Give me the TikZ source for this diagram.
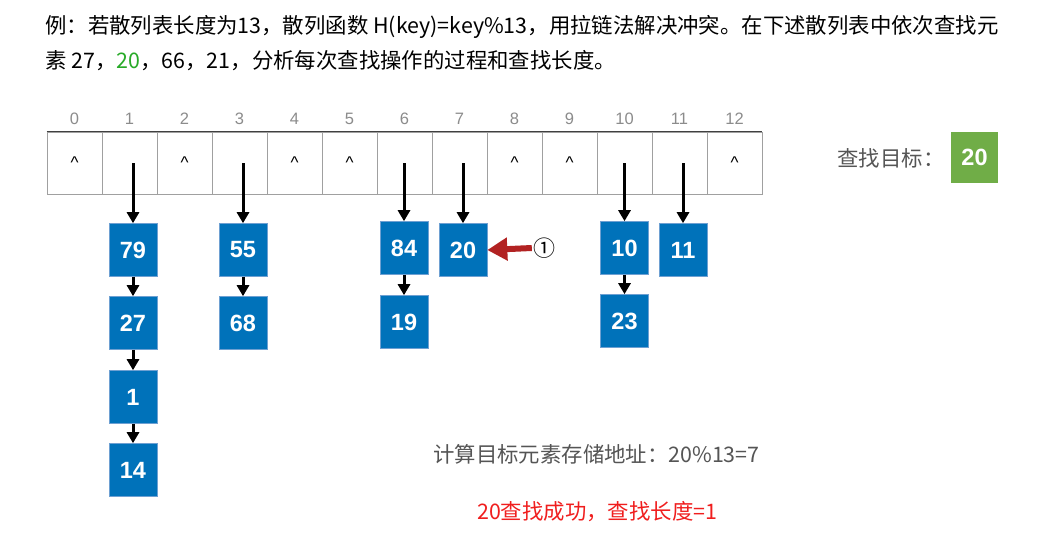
\documentclass[tikz,border=0pt]{standalone}
\usepackage{fontspec}
\setmainfont{Liberation Sans}
\newfontfamily\cjk{Noto Sans CJK SC}
\usetikzlibrary{arrows.meta}
\definecolor{nodeblue}{RGB}{0,114,186}
\definecolor{nodeedge}{RGB}{110,160,210}
\definecolor{idxgray}{RGB}{140,140,140}
\definecolor{txtgray}{RGB}{85,85,85}
\definecolor{cellgray}{RGB}{160,160,160}
\definecolor{tgtgreen}{RGB}{112,173,71}
\definecolor{redarrow}{RGB}{178,34,34}
\definecolor{titlegreen}{RGB}{40,170,40}
\definecolor{okred}{RGB}{240,30,30}
\tikzset{
  cell/.style={draw=cellgray, line width=0.8pt, minimum width=55pt, minimum height=62pt, inner sep=0pt},
  idx/.style={text=idxgray, font=\fontsize{16.5}{16.5}\selectfont, inner sep=0pt},
  caret/.style={font=\fontsize{17}{17}\selectfont, inner sep=0pt},
  elem/.style={fill=nodeblue, draw=nodeedge, line width=0.6pt, minimum width=48pt, minimum height=53pt, inner sep=0pt, text=white, font=\bfseries\fontsize{23.5}{23.5}\selectfont},
  ptr/.style={-{Triangle[length=11pt,width=12pt]}, line width=3pt, black},
  redptr/.style={-{Triangle[length=20pt,width=22pt]}, line width=6pt, redarrow},
  ttl/.style={anchor=base west, inner sep=0pt, font=\cjk\fontsize{21.4}{21.4}\selectfont}
}
\begin{document}
\begin{tikzpicture}[x=1pt,y=-1pt]
\useasboundingbox[fill=white] (0,0) rectangle (1041,546);
% title
\node[ttl] (t1) at (45,33) {例：若散列表长度为13，散列函数 H(key)=key\%13，用拉链法解决冲突。在下述散列表中依次查找元};
\node[ttl] (t2) at (45,68) {素 27，\textcolor{titlegreen}{20}，66，21，分析每次查找操作的过程和查找长度。};
% table
\foreach \i in {0,...,12} {
  \node[cell] (c\i) at ({74.5+55*\i},163) {};
  \node[idx] (l\i) at ({74.5+55*\i},119) {\i};
}
\foreach \i in {0,2,4,5,8,9,12} {
  \node[caret] (k\i) at ({74.5+55*\i},163) {\textasciicircum};
}
\draw[black!75, line width=1pt] (c0.north west) -- (c12.north east);
% chains
\node[elem] (n79) at (133,250) {79};
\node[elem] (n27) at (133,323) {27};
\node[elem] (n1)  at (133,397) {1};
\node[elem] (n14) at (133,470) {14};
\node[elem] (n55) at (243,250) {55};
\node[elem] (n68) at (243,323) {68};
\node[elem] (n84) at (404,248) {84};
\node[elem] (n19) at (404,322) {19};
\node[elem] (n20) at (463,250) {20};
\node[elem] (n10) at (624.5,248) {10};
\node[elem] (n23) at (624.5,321) {23};
\node[elem] (n11) at (683,250) {11};
\draw[ptr] (n79 |- c1.center) -- (n79);
\draw[ptr] (n55 |- c3.center) -- (n55);
\draw[ptr] (n84 |- c6.center) -- (n84);
\draw[ptr] (n20 |- c7.center) -- (n20);
\draw[ptr] (n10 |- c10.center) -- (n10);
\draw[ptr] (n11 |- c11.center) -- (n11);
\draw[ptr] (n79) -- (n27);
\draw[ptr] (n27) -- (n1);
\draw[ptr] (n1) -- (n14);
\draw[ptr] (n55) -- (n68);
\draw[ptr] (n84) -- (n19);
\draw[ptr] (n10) -- (n23);
% step marker
\node[inner sep=1pt, font=\cjk\fontsize{22}{22}\selectfont] (m1) at (544,248) {①};
\draw[redptr] (m1.west) -- (n20.east);
% target
\node[inner sep=0pt, text=txtgray, font=\cjk\fontsize{21.4}{21.4}\selectfont] (tt) at (891,158) {查找目标：};
\node[fill=tgtgreen, minimum width=47pt, minimum height=51pt, inner sep=0pt, text=white, font=\bfseries\fontsize{23.5}{23.5}\selectfont] (tg) at (974.5,157.5) {20};
% bottom notes
\node[ttl, text=txtgray] (addr) at (433,462) {计算目标元素存储地址：20\%13=7};
\node[ttl, text=okred] (res) at (477,519) {20查找成功，查找长度=1};
\end{tikzpicture}
\end{document}
